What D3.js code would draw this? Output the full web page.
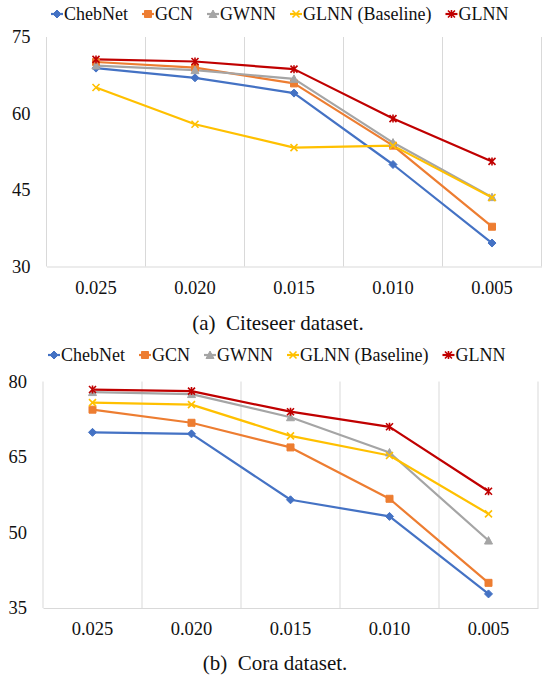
<!DOCTYPE html>
<html><head><meta charset="utf-8">
<script src="https://cdn.jsdelivr.net/npm/d3@7"></script>
<style>body{margin:0;background:#fff}svg{display:block}
svg text{font-family:"Liberation Serif","Times New Roman",serif !important;}</style>
</head><body>
<script>
const categories = ["0.025","0.020","0.015","0.010","0.005"];
const seriesNames = ["ChebNet","GCN","GWNN","GLNN (Baseline)","GLNN"];
const seriesColors = ["#4472C4","#ED7D31","#A5A5A5","#FFC000","#C00000"];
const seriesMarkers = ["diamond","square","triangle","x","star"];
const citeseerChebNet = [68.9, 67.0, 64.0, 50.0, 34.6];
const citeseerGCN = [70.1, 69.0, 65.9, 53.7, 37.8];
const citeseerGWNN = [69.4, 68.5, 66.8, 54.3, 43.6];
const citeseerBaseline = [65.1, 57.9, 53.3, 53.7, 43.5];
const citeseerGLNN = [70.6, 70.2, 68.7, 59.0, 50.6];
const coraChebNet = [69.9, 69.6, 56.5, 53.2, 37.8];
const coraGCN = [74.4, 71.8, 66.9, 56.7, 40.0];
const coraGWNN = [77.9, 77.5, 72.9, 65.9, 48.4];
const coraBaseline = [75.8, 75.4, 69.2, 65.3, 53.7];
const coraGLNN = [78.4, 78.1, 74.0, 71.0, 58.2];
const citeseerTicks = [30, 45, 60, 75];
const coraTicks = [35, 50, 65, 80];

const svg = d3.select("body").append("svg").attr("width",548).attr("height",675);

function markerPath(type, s){
  const p = d3.path(); const h = s/2;
  if(type==="diamond"){ p.moveTo(0,-h-0.5); p.lineTo(h+0.5,0); p.lineTo(0,h+0.5); p.lineTo(-h-0.5,0); p.closePath(); }
  else if(type==="square"){ p.rect(-h,-h,s,s); }
  else if(type==="triangle"){ p.moveTo(0,-h-0.5); p.lineTo(h+0.5,h); p.lineTo(-h-0.5,h); p.closePath(); }
  else if(type==="x"){ p.moveTo(-h,-h); p.lineTo(h,h); p.moveTo(h,-h); p.lineTo(-h,h); }
  else { p.moveTo(-h,-h); p.lineTo(h,h); p.moveTo(h,-h); p.lineTo(-h,h); p.moveTo(0,-h-0.5); p.lineTo(0,h+0.5); }
  return p.toString();
}
function drawMarker(g, type, color, x, y, s){
  const filled = (type==="diamond"||type==="square"||type==="triangle");
  g.append("path").attr("d", markerPath(type,s)).attr("transform",`translate(${x},${y})`)
    .attr("fill", filled?color:"none").attr("stroke", color).attr("stroke-width", filled?1:1.6);
}

function drawChart(cfg){
  const g = svg.append("g");
  const x = d3.scaleBand().domain(categories).range([cfg.left, cfg.right]).paddingInner(0).paddingOuter(0);
  const y = d3.scaleLinear().domain([cfg.ticks[0], cfg.ticks[cfg.ticks.length-1]]).range([cfg.bottom, cfg.top]);
  const bounds = categories.map(c => x(c)).concat([cfg.right]);
  g.selectAll(".grid").data(bounds).enter().append("line")
    .attr("x1", d=>d).attr("x2", d=>d).attr("y1", cfg.top).attr("y2", cfg.bottom)
    .attr("stroke","#d9d9d9").attr("stroke-width",1);
  const xa = g.append("g").attr("transform",`translate(0,${cfg.bottom})`)
    .call(d3.axisBottom(x).tickSize(0).tickPadding(14));
  xa.select(".domain").attr("stroke","#d9d9d9").attr("stroke-width",1.2);
  xa.selectAll("text").attr("font-size",18.5).attr("fill","#111");
  const ya = g.append("g").attr("transform",`translate(${cfg.left},0)`)
    .call(d3.axisLeft(y).tickValues(cfg.ticks).tickSize(0).tickPadding(16));
  ya.select(".domain").remove();
  ya.selectAll("text").attr("font-size",18.5).attr("fill","#111");
  const cx = c => x(c) + x.bandwidth()/2;
  cfg.series.forEach((vals, i) => {
    const line = d3.line().x((d,j)=>cx(categories[j])).y(d=>y(d));
    g.append("path").datum(vals).attr("d", line).attr("fill","none")
      .attr("stroke", seriesColors[i]).attr("stroke-width",2.2).attr("stroke-linejoin","round");
  });
  cfg.series.forEach((vals, i) => {
    vals.forEach((v,j) => drawMarker(g, seriesMarkers[i], seriesColors[i], cx(categories[j]), y(v), 7));
  });
  const lg = g.append("g");
  let mx = cfg.legendX;
  seriesNames.forEach((name,i) => {
    lg.append("line").attr("x1",mx-6).attr("x2",mx+6).attr("y1",cfg.legendY).attr("y2",cfg.legendY)
      .attr("stroke",seriesColors[i]).attr("stroke-width",2.2);
    drawMarker(lg, seriesMarkers[i], seriesColors[i], mx, cfg.legendY, 7);
    const t = lg.append("text").attr("x", mx+7).attr("y", cfg.legendY).attr("dy","0.35em")
      .attr("font-size",18).attr("fill","#111").text(name);
    mx = mx + 7 + t.node().getComputedTextLength() + 20;
  });
  g.append("text").attr("x", cfg.capX).attr("y", cfg.capY).attr("dy","0.35em")
    .attr("text-anchor","middle").attr("font-size",21).attr("fill","#111")
    .style("white-space","pre").text(cfg.caption);
}

drawChart({left:46.5, right:541.5, top:37, bottom:266.5, ticks:citeseerTicks,
  series:[citeseerChebNet,citeseerGCN,citeseerGWNN,citeseerBaseline,citeseerGLNN],
  legendX:57, legendY:14, capX:278, capY:323, caption:"(a)  Citeseer dataset."});
drawChart({left:43, right:538, top:381.5, bottom:608, ticks:coraTicks,
  series:[coraChebNet,coraGCN,coraGWNN,coraBaseline,coraGLNN],
  legendX:54, legendY:355, capX:275, capY:663, caption:"(b)  Cora dataset."});
</script>
</body></html>
